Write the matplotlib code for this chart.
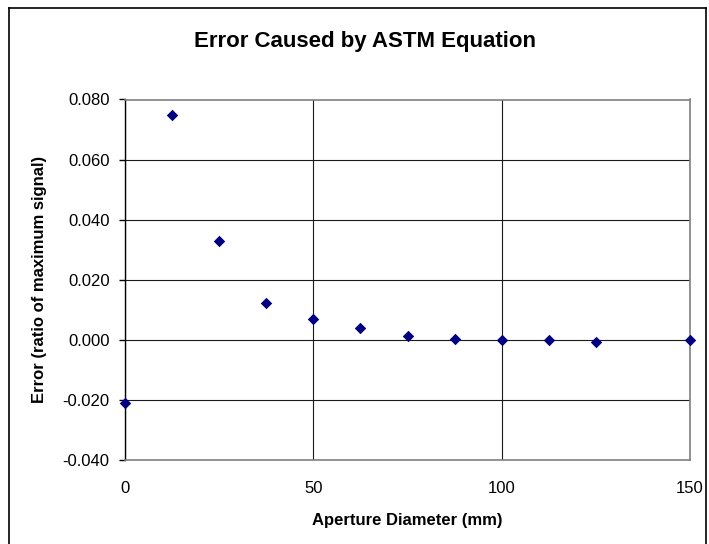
import matplotlib
matplotlib.use("Agg")
import matplotlib.pyplot as plt
from matplotlib.lines import Line2D

plt.rcParams['font.family'] = ['Liberation Sans', 'DejaVu Sans']

aperture_mm = [0, 12.5, 25, 37.5, 50, 62.5, 75, 87.5, 100, 112.5, 125, 150]
error_ratio = [-0.0209, 0.0749, 0.0328, 0.0123, 0.0071, 0.0039, 0.0014, 0.0004, 0.0000, 0.0000, -0.0006, 0.0000]
x_ticks = [0, 50, 100, 150]
y_ticks = [-0.040, -0.020, 0.000, 0.020, 0.040, 0.060, 0.080]
y_tick_labels = ["-0.040", "-0.020", "0.000", "0.020", "0.040", "0.060", "0.080"]

W, H = 709, 544
fig = plt.figure(figsize=(W / 100, H / 100), dpi=100)
L, R, T, B = 125, 690, 99.5, 460
ax = fig.add_axes([L / W, 1 - B / H, (R - L) / W, (B - T) / H])

ax.scatter(aperture_mm, error_ratio, marker='D', s=34, color='#000080', zorder=3, clip_on=False,
           linewidths=0)

ax.set_xlim(0, 150)
ax.set_ylim(-0.040, 0.080)
ax.set_xticks(x_ticks)
ax.set_yticks(y_ticks)
ax.set_yticklabels(y_tick_labels)
ax.grid(True, color='#1a1a1a', linewidth=0.8)
ax.set_axisbelow(True)

for side in ['top', 'right', 'bottom']:
    ax.spines[side].set_color('#808080')
    ax.spines[side].set_linewidth(1.2)
ax.spines['left'].set_color('black')
ax.spines['left'].set_linewidth(1.0)

ax.tick_params(axis='y', direction='out', length=4, width=1, labelsize=12, pad=7)
ax.tick_params(axis='x', direction='out', length=0, labelsize=12, pad=15)

fig.text(365.5 / W, 1 - 41 / H, 'Error Caused by ASTM Equation',
         ha='center', va='center', fontsize=16, fontweight='bold')
fig.text((L + R) / 2 / W, 1 - 520 / H, 'Aperture Diameter (mm)',
         ha='center', va='center', fontsize=12, fontweight='bold')
fig.text(40 / W, 1 - (T + B) / 2 / H, 'Error (ratio of maximum signal)',
         ha='center', va='center', rotation=90, fontsize=12, fontweight='bold')

# chart-area frame (left, top and right edges; bottom runs past the image)
fx0, fx1, fy0 = 8.5 / W, 706 / W, 1 - 7.5 / H
for xs, ys in [([fx0, fx0], [fy0, -0.01]), ([fx0, fx1], [fy0, fy0]), ([fx1, fx1], [fy0, -0.01])]:
    fig.lines.append(Line2D(xs, ys, transform=fig.transFigure, color='black', linewidth=1.2))

fig.savefig('out.png', dpi=100)
